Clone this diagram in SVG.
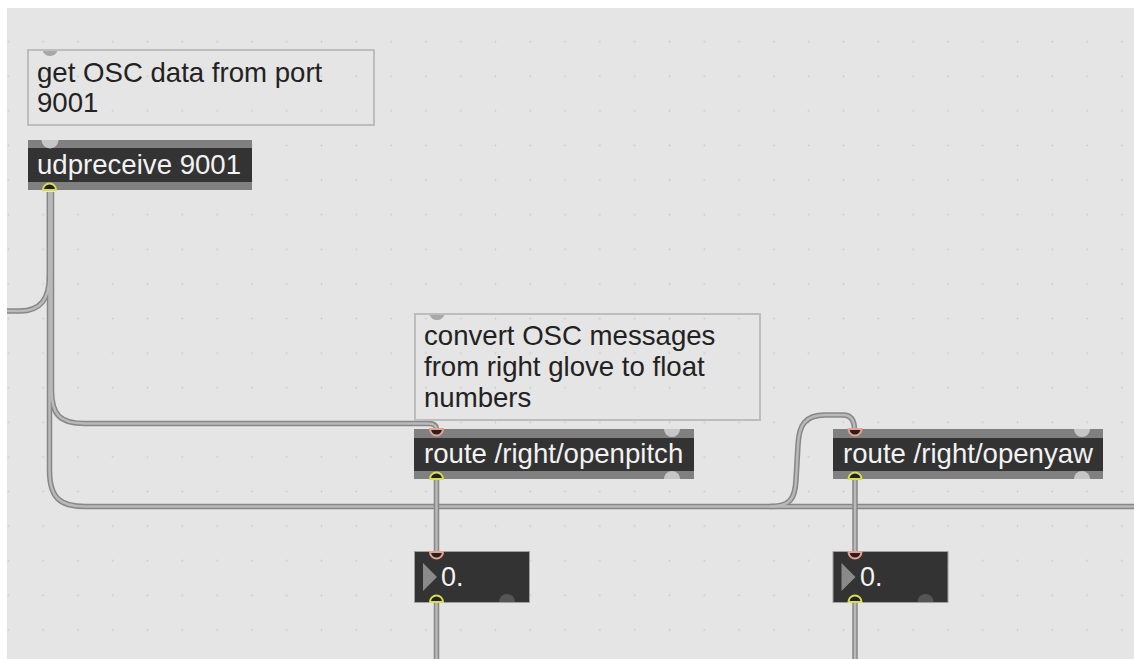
<svg xmlns="http://www.w3.org/2000/svg" width="1134" height="659" viewBox="0 0 1134 659">
  <defs>
    <pattern id="grid" patternUnits="userSpaceOnUse" x="-9.1" y="24.4" width="34.8" height="34.6">
      <circle cx="17.4" cy="17.3" r="0.9" fill="#c9c9c9"/>
    </pattern>
    <style>
      .comment { fill: none; stroke: #bdbdbd; stroke-width: 2; }
      .ctext { font-family: "Liberation Sans", Arial, sans-serif; font-size: 27.6px; fill: #222; }
      .otext { font-family: "Liberation Sans", Arial, sans-serif; font-size: 27.6px; fill: #f2f2f2; }
      .ntext { font-family: "Liberation Sans", Arial, sans-serif; font-size: 27px; fill: #f2f2f2; }
      .band { fill: #808080; }
      .core { fill: #333333; }
      .nbox { fill: #333333; stroke: #a0a0a0; stroke-width: 1; }
      .inl-gray { fill: #a8a8a8; }
      .inl-light { fill: #c6c6c6; }
      .out-dark { fill: #555555; }
      .ring-in { fill: #222; stroke: #eba08f; stroke-width: 2; }
      .ring-out { fill: #222; stroke: #d9dc55; stroke-width: 2; }
      .cord-o { fill: none; stroke: #878787; stroke-width: 5.5; stroke-linecap: butt; }
      .cord-i { fill: none; stroke: #b9b9b9; stroke-width: 2.5; stroke-linecap: butt; }
    </style>
  </defs>

  <!-- canvas -->
  <rect width="1134" height="659" fill="#ffffff"/>
  <rect x="7" y="8" width="1127" height="651" fill="#e5e5e5"/>
  <rect x="7" y="8" width="1127" height="651" fill="url(#grid)"/>

  <!-- patch cords -->
  <g id="connectors">
    <g class="cord-o">
      <path id="c-left" d="M49.5 192 L49.5 275 C49.5 300 40 311 20 311 L7 311"/>
      <path id="c-pitch" d="M51.5 192 L51.5 390 C51.5 415 60 423.5 85 423.5 L428 423.5 C434 423.5 436.5 425 436.5 430"/>
      <path id="c-bus" d="M49.5 192 L49.5 470 C49.5 498 60 506.5 85 506.5 L1134 506.5"/>
      <path id="c-yaw" d="M770 506.5 C790 506.5 795 499 796 480 L798 445 C799 425 805 415 825 415 L843 415 C851 415 854.5 420 854.5 430"/>
    </g>
    <g class="cord-i">
      <path d="M49.5 192 L49.5 275 C49.5 300 40 311 20 311 L7 311"/>
      <path d="M51.5 192 L51.5 390 C51.5 415 60 423.5 85 423.5 L428 423.5 C434 423.5 436.5 425 436.5 430"/>
      <path d="M49.5 192 L49.5 470 C49.5 498 60 506.5 85 506.5 L1134 506.5"/>
      <path d="M770 506.5 C790 506.5 795 499 796 480 L798 445 C799 425 805 415 825 415 L843 415 C851 415 854.5 420 854.5 430"/>
    </g>
    <g class="cord-o">
      <path d="M436.5 479 L436.5 552"/>
      <path d="M436.5 602 L436.5 659"/>
      <path d="M855 479 L855 552"/>
      <path d="M855 602 L855 659"/>
    </g>
    <g class="cord-i">
      <path d="M436.5 479 L436.5 552"/>
      <path d="M436.5 602 L436.5 659"/>
      <path d="M855 479 L855 552"/>
      <path d="M855 602 L855 659"/>
    </g>
  </g>

  <!-- comment: port -->
  <g id="comment-port">
    <rect class="comment" x="28" y="50" width="346" height="75"/>
    <path class="inl-gray" d="M42.6 51 A8 8 0 0 0 57.4 51 Z"/>
    <text class="ctext" x="37" y="82">get OSC data from port</text>
    <text class="ctext" x="37" y="112">9001</text>
  </g>

  <!-- udpreceive object -->
  <g id="udpreceive">
    <rect class="band" x="28" y="140" width="224" height="50"/>
    <rect class="core" x="28" y="148" width="224" height="34"/>
    <path class="inl-light" d="M41.5 140 A8.5 8.5 0 0 0 58.5 140 Z"/>
    <path class="ring-out" d="M43 190 A6.5 6.5 0 0 1 56 190 Z"/>
    <text class="otext" x="37" y="174">udpreceive 9001</text>
  </g>

  <!-- comment: conversion -->
  <g id="comment-convert">
    <rect class="comment" x="415" y="314" width="345" height="106"/>
    <path class="inl-gray" d="M429.6 315 A8 8 0 0 0 444.4 315 Z"/>
    <text class="ctext" x="424" y="345">convert OSC messages</text>
    <text class="ctext" x="424" y="376">from right glove to float</text>
    <text class="ctext" x="424" y="407">numbers</text>
  </g>

  <!-- route openpitch -->
  <g id="route-openpitch">
    <rect class="band" x="414" y="429" width="280" height="50"/>
    <rect class="core" x="414" y="438" width="280" height="33"/>
    <path class="ring-in" d="M430 429 A6.5 6.5 0 0 0 443 429 Z"/>
    <path class="inl-light" d="M664 429 A8 8 0 0 0 680 429 Z"/>
    <path class="ring-out" d="M430 479 A6.5 6.5 0 0 1 443 479 Z"/>
    <path class="inl-light" d="M664 479 A8 8 0 0 1 680 479 Z"/>
    <text class="otext" x="424" y="463">route /right/openpitch</text>
  </g>

  <!-- route openyaw -->
  <g id="route-openyaw">
    <rect class="band" x="833" y="429" width="270" height="50"/>
    <rect class="core" x="833" y="438" width="270" height="33"/>
    <path class="ring-in" d="M848.5 429 A6.5 6.5 0 0 0 861.5 429 Z"/>
    <path class="inl-light" d="M1074 429 A8 8 0 0 0 1090 429 Z"/>
    <path class="ring-out" d="M848.5 479 A6.5 6.5 0 0 1 861.5 479 Z"/>
    <path class="inl-light" d="M1074 479 A8 8 0 0 1 1090 479 Z"/>
    <text class="otext" x="843" y="463">route /right/openyaw</text>
  </g>

  <!-- float number boxes -->
  <g id="flonum-pitch">
    <rect class="nbox" x="414.5" y="551.5" width="115" height="51"/>
    <polygon points="423,563 437,577 423,591" fill="#8a8a8a"/>
    <path class="ring-in" d="M430 552 A6.5 6.5 0 0 0 443 552 Z"/>
    <path class="ring-out" d="M430 602 A6.5 6.5 0 0 1 443 602 Z"/>
    <path class="out-dark" d="M499 602 A8 8 0 0 1 515 602 Z"/>
    <text class="ntext" x="441" y="586">0.</text>
  </g>

  <g id="flonum-yaw">
    <rect class="nbox" x="833" y="551.5" width="115" height="51"/>
    <polygon points="841.5,563 855.5,577 841.5,591" fill="#8a8a8a"/>
    <path class="ring-in" d="M848.5 552 A6.5 6.5 0 0 0 861.5 552 Z"/>
    <path class="ring-out" d="M848.5 602 A6.5 6.5 0 0 1 861.5 602 Z"/>
    <path class="out-dark" d="M917.5 602 A8 8 0 0 1 933.5 602 Z"/>
    <text class="ntext" x="860" y="586">0.</text>
  </g>
</svg>
